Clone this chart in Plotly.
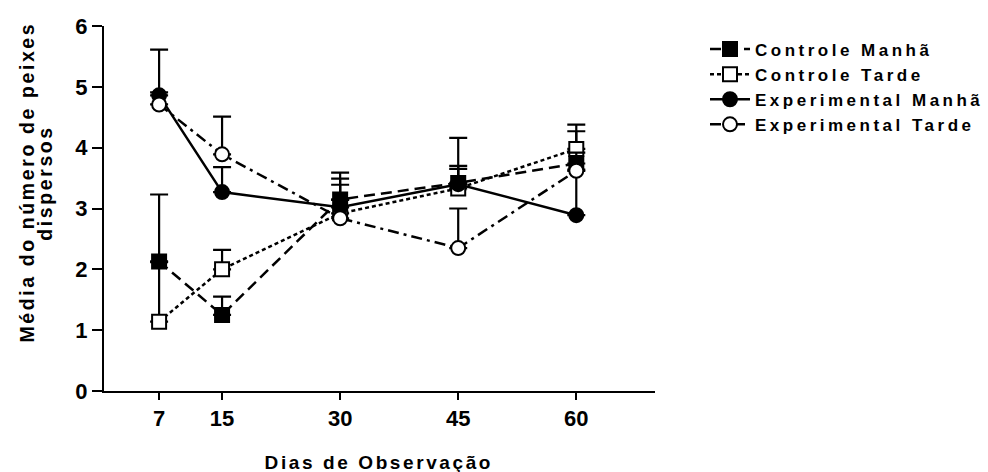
import plotly.graph_objects as go

days = [7, 15, 30, 45, 60]
tick_labels = ["7", "15", "30", "45", "60"]
y_ticks = [0, 1, 2, 3, 4, 5, 6]

series_names = ["Controle Manhã", "Controle Tarde", "Experimental Manhã", "Experimental Tarde"]
controle_manha = [2.13, 1.25, 3.15, 3.42, 3.74]
controle_manha_err = [1.10, 0.30, 0.44, 0.28, 0.53]
controle_tarde = [1.14, 2.00, 2.92, 3.33, 3.98]
controle_tarde_err = [0.98, 0.32, 0.57, 0.32, 0.40]
experimental_manha = [4.86, 3.27, 3.02, 3.40, 2.89]
experimental_manha_err = [0.75, 0.41, 0.37, 0.76, 0.75]
experimental_tarde = [4.71, 3.89, 2.84, 2.35, 3.62]
experimental_tarde_err = [0.20, 0.62, 0.30, 0.65, 0.30]

y_title_line1 = "Média do número de peixes"
y_title_line2 = "dispersos"
x_title = "Dias de Observação"

values = [controle_manha, controle_tarde, experimental_manha, experimental_tarde]
errors = [controle_manha_err, controle_tarde_err, experimental_manha_err, experimental_tarde_err]
styles = [
    dict(dash="11px,6px", symbol="square", fill="black"),
    dict(dash="4px,3px", symbol="square", fill="white"),
    dict(dash="solid", symbol="circle", fill="black"),
    dict(dash="11px,5px,3px,5px", symbol="circle", fill="white"),
]

FONT = "Liberation Sans, Arial, sans-serif"
L, R, T, B = 104, 333, 26, 81
PW, PH = 988 - L - R, 472 - T - B

fig = go.Figure()
for name, vals, errs, st in zip(series_names, values, errors, styles):
    fig.add_trace(go.Scatter(
        x=days, y=vals, name=name, mode="lines+markers",
        line=dict(color="black", width=2.5, dash=st["dash"]),
        marker=dict(symbol=st["symbol"], size=14, color=st["fill"],
                    line=dict(color="black", width=2)),
        error_y=dict(type="data", symmetric=False, array=errs,
                     arrayminus=[0] * len(errs), color="black",
                     thickness=2.2, width=9),
    ))

fig.update_layout(
    width=988, height=472,
    margin=dict(l=L, r=R, t=T, b=B),
    paper_bgcolor="white", plot_bgcolor="white",
    font=dict(family=FONT, color="black", size=17),
    showlegend=True,
    legend=dict(x=(705 - L) / PW, y=0.985, xanchor="left", yanchor="top",
                font=dict(family=FONT, size=17, color="black", weight="bold"),
                bgcolor="rgba(0,0,0,0)", tracegroupgap=0, itemwidth=40),
    xaxis=dict(range=[0, 70], tickvals=days, ticktext=tick_labels,
               showgrid=False, zeroline=False, showline=True, linecolor="black",
               linewidth=2, ticks="outside", ticklen=7, tickwidth=2, tickcolor="black",
               tickfont=dict(family=FONT, size=22, weight="bold")),
    yaxis=dict(range=[0, 6], tickvals=y_ticks,
               showgrid=False, zeroline=False, showline=True, linecolor="black",
               linewidth=2, ticks="outside", ticklen=10, tickwidth=2, tickcolor="black",
               tickfont=dict(family=FONT, size=22, weight="bold")),
    annotations=[
        dict(text=y_title_line1, textangle=-90,
             xref="paper", yref="paper", x=(27 - L) / PW, y=(391 - 182) / PH,
             xanchor="center", yanchor="middle", showarrow=False,
             font=dict(family=FONT, size=19.5, weight="bold")),
        dict(text=y_title_line2, textangle=-90,
             xref="paper", yref="paper", x=(45 - L) / PW, y=(391 - 183) / PH,
             xanchor="center", yanchor="middle", showarrow=False,
             font=dict(family=FONT, size=19.5, weight="bold")),
        dict(text=x_title,
             xref="paper", yref="paper", x=(379 - L) / PW, y=-(462 - 391) / PH,
             xanchor="center", yanchor="middle", showarrow=False,
             font=dict(family=FONT, size=19, weight="bold")),
    ],
)

post = (
    "var s=document.createElement('style');"
    "s.textContent='html,body{margin:0;padding:0;overflow:hidden}"
    " .legend .scrollbox{clip-path:none !important}"
    " .legendtext{letter-spacing:3.5px}"
    " .annotation-text{letter-spacing:2.6px}';"
    "document.head.appendChild(s);"
)
fig.write_html("out.html", post_script=post, config={"displayModeBar": False})
